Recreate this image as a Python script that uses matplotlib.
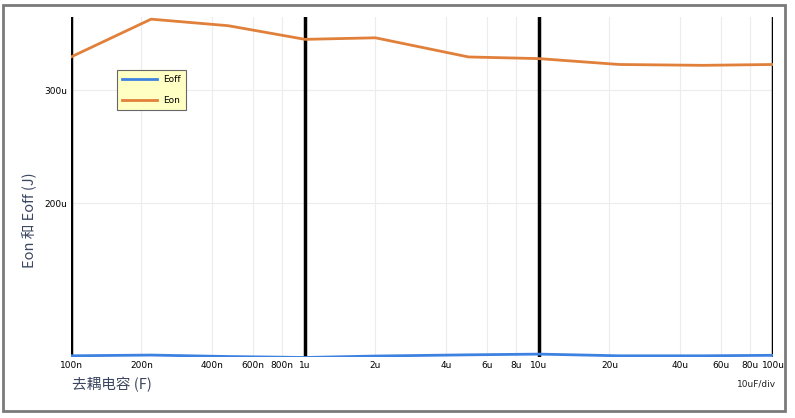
import numpy as np
import matplotlib.pyplot as plt
from matplotlib.ticker import LogLocator, FuncFormatter, NullFormatter
from matplotlib.patches import Rectangle

# decoupling capacitance (F) and switching energies (J)
cap_on = [100e-9, 220e-9, 470e-9, 1e-6, 2e-6, 5e-6, 10e-6, 22e-6, 50e-6, 100e-6]
eon = [338e-6, 387e-6, 378e-6, 360e-6, 362e-6, 338e-6, 336e-6, 329e-6, 328e-6, 329e-6]
cap_off = [100e-9, 220e-9, 470e-9, 1e-6, 2e-6, 5e-6, 10e-6, 22e-6, 50e-6, 100e-6]
eoff = [115.9e-6, 116.2e-6, 115.6e-6, 115.2e-6, 115.8e-6, 116.3e-6, 116.6e-6, 115.9e-6, 115.9e-6, 116.1e-6]

cjk = ['Noto Sans CJK SC', 'DejaVu Sans']
label_color = '#3b4660'


def si(x, pos=None):
  for scale, suffix in [(1e-6, 'u'), (1e-9, 'n')]:
    if x >= scale * 0.999:
      v = x / scale
      return f'{v:.0f}{suffix}'
  return f'{x:g}'


fig = plt.figure(figsize=(7.95, 4.18), dpi=100)
ax = fig.add_axes([71/795, 61/418, 702/795, 340/418])

ax.plot(cap_off, eoff, color='#3d82e0', lw=2, label='Eoff')
ax.plot(cap_on, eon, color='#e0803a', lw=2, label='Eon')

ax.set_xscale('log')
ax.set_yscale('log')
ax.set_xlim(100e-9, 100e-6)
ax.set_ylim(115.4e-6, 390e-6)

ax.xaxis.set_major_locator(LogLocator(base=10))
ax.xaxis.set_minor_locator(LogLocator(base=10, subs=(2, 4, 6, 8)))
ax.xaxis.set_major_formatter(FuncFormatter(si))
ax.xaxis.set_minor_formatter(FuncFormatter(si))
ax.yaxis.set_major_locator(plt.FixedLocator([200e-6, 300e-6]))
ax.yaxis.set_minor_locator(plt.NullLocator())
ax.yaxis.set_major_formatter(FuncFormatter(si))
ax.yaxis.set_minor_formatter(NullFormatter())

ax.tick_params(which='both', length=0, labelsize=6.5, pad=3)
ax.grid(which='major', axis='x', color='black', lw=2.5)
ax.grid(which='minor', axis='x', color='#ececec', lw=0.8)
ax.grid(which='major', axis='y', color='#ececec', lw=0.8)
ax.set_axisbelow(True)
ax.yaxis.set_zorder(0.4)  # keep light y grid under the black decade lines
for s in ax.spines.values():
  s.set_visible(False)

leg = ax.legend(loc='upper left', bbox_to_anchor=(0.065, 0.845), fontsize=6.5,
                fancybox=False, facecolor='#ffffc4', edgecolor='#666666',
                framealpha=1, handlelength=3.9, handletextpad=0.6,
                borderpad=0.6, labelspacing=1.3, borderaxespad=0)
leg.get_frame().set_linewidth(0.8)

fig.text(72/795, 1 - 385/418, '去耦电容 (F)', family=cjk, fontsize=10.5,
         color=label_color, va='center', ha='left')
fig.text(30/795, 1 - 220/418, 'Eon 和 Eoff (J)', family=cjk, fontsize=10.5,
         color=label_color, va='center', ha='center', rotation=90)
fig.text(757/795, 1 - 384/418, '10uF/div', fontsize=6.5, color='#222222',
         va='center', ha='center')

# outer frame
fig.patches.append(Rectangle((3/795, 1 - 411/418), 782/795, 406/418,
                             transform=fig.transFigure, fill=False,
                             edgecolor='#7a7a7a', lw=2))

fig.savefig('out.png', dpi=100)
